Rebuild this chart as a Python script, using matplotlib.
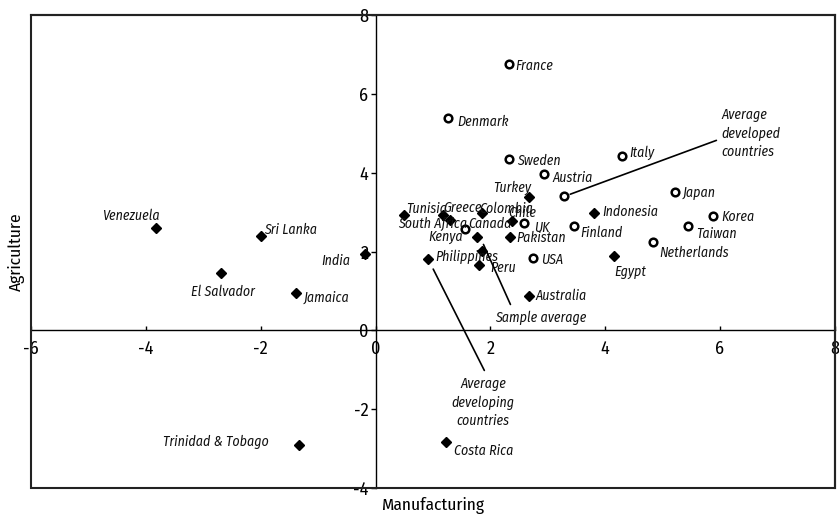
import matplotlib
matplotlib.use("Agg")
import matplotlib.pyplot as plt
from matplotlib.patches import Rectangle

plt.rcParams['font.family'] = ['Fira Sans Condensed', 'DejaVu Sans']
plt.rcParams['axes.unicode_minus'] = False

# Developing countries (filled diamonds)
dev_names = ['Venezuela', 'Sri Lanka', 'India', 'El Salvador', 'Jamaica',
             'Trinidad & Tobago', 'Costa Rica', 'Australia', 'Egypt', 'Indonesia',
             'Turkey', 'Chile', 'Pakistan', 'Tunisia', 'Greece', 'Colombia',
             'South Africa', 'Kenya', 'Philippines', 'Peru']
dev_x = [-3.83, -2.00, -0.19, -2.70, -1.39, -1.34, 1.22, 2.67, 4.16, 3.80,
         2.67, 2.37, 2.35, 0.49, 1.18, 1.85, 1.29, 1.76, 1.86, 1.81]
dev_y = [2.61, 2.39, 1.93, 1.45, 0.94, -2.92, -2.82, 0.86, 1.88, 2.99,
         3.38, 2.77, 2.36, 2.94, 2.92, 2.99, 2.79, 2.36, 2.01, 1.65]

# Developed countries (open circles)
ind_names = ['France', 'Denmark', 'Sweden', 'Austria', 'Italy', 'Japan', 'Korea',
             'Taiwan', 'Netherlands', 'Finland', 'USA', 'UK', 'Canada']
ind_x = [2.32, 1.27, 2.32, 2.93, 4.29, 5.21, 5.87, 5.44, 4.84, 3.45, 2.74, 2.58, 1.55]
ind_y = [6.75, 5.38, 4.34, 3.96, 4.42, 3.50, 2.89, 2.66, 2.23, 2.66, 1.83, 2.72, 2.56]

# Group averages
avg_dev_xy = (0.92, 1.80)
avg_ind_xy = (3.29, 3.40)
avg_all_xy = (1.88, 2.18)

x_ticks = [-6, -4, -2, 0, 2, 4, 6, 8]
y_ticks = [-4, -2, 0, 2, 4, 6, 8]

# label placement: (dx, dy) in pixels, horizontal alignment
label_pos = {
    'Venezuela': (4, 8, 'right'), 'Sri Lanka': (3, 2, 'left'), 'India': (-14, -11, 'right'),
    'El Salvador': (2, -23, 'center'), 'Jamaica': (8, -8, 'left'),
    'Trinidad & Tobago': (-30, -1, 'right'), 'Costa Rica': (8, -13, 'left'),
    'Australia': (7, -4, 'left'), 'Egypt': (0, -20, 'left'), 'Indonesia': (9, -3, 'left'),
    'Turkey': (2, 5, 'right'), 'Chile': (-3, 4, 'left'), 'Pakistan': (6, -5, 'left'),
    'Tunisia': (3, 2, 'left'), 'Greece': (0, 3, 'left'), 'Colombia': (-2, 0, 'left'),
    'South Africa': (18, -8, 'right'), 'Kenya': (-14, -3, 'right'),
    'Philippines': (16, -10, 'right'), 'Peru': (11, -7, 'left'),
    'France': (7, -6, 'left'), 'Denmark': (9, -8, 'left'), 'Sweden': (8, -6, 'left'),
    'Austria': (9, -8, 'left'), 'Italy': (7, -1, 'left'), 'Japan': (8, -5, 'left'),
    'Korea': (9, -5, 'left'), 'Taiwan': (8, -12, 'left'), 'Netherlands': (6, -15, 'left'),
    'Finland': (7, -11, 'left'), 'USA': (8, -6, 'left'), 'UK': (10, -9, 'left'),
    'Canada': (4, 1, 'left'),
}

fig = plt.figure(figsize=(8.39, 5.2), dpi=100)
ax = fig.add_axes([0.037, 0.0615, 0.958, 0.9095])

ax.plot(dev_x, dev_y, 'D', color='black', markersize=5, zorder=3)
ax.plot(ind_x, ind_y, 'o', mfc='white', mec='black', mew=1.8, markersize=5.5, zorder=3)
ax.plot(*avg_dev_xy, 'D', color='black', markersize=5, zorder=3)
ax.plot(*avg_ind_xy, 'o', mfc='white', mec='black', mew=1.8, markersize=5.5, zorder=3)

lab_kw = dict(textcoords='offset pixels', fontsize=10, style='italic', color='#111111')
for names, xs, ys in [(dev_names, dev_x, dev_y), (ind_names, ind_x, ind_y)]:
    for n, x, y in zip(names, xs, ys):
        dx, dy, ha = label_pos[n]
        ax.annotate(n, (x, y), xytext=(dx, dy), ha=ha, va='baseline', **lab_kw)

# leader lines + labels for averages
line_kw = dict(arrowstyle='-', color='black', lw=1.2, shrinkA=0)
ax.annotate('', avg_dev_xy, xytext=(56, -111), textcoords='offset pixels',
            arrowprops=dict(shrinkB=7.8, **line_kw))
ax.annotate('Average\ndeveloping\ncountries', avg_dev_xy, xytext=(55, -143),
            ha='center', va='center', linespacing=1.35, **lab_kw)
ax.annotate('', avg_ind_xy, xytext=(152, 56), textcoords='offset pixels',
            arrowprops=dict(shrinkB=4.5, **line_kw))
ax.annotate('Average\ndeveloped\ncountries', avg_ind_xy, xytext=(157, 63),
            ha='left', va='center', linespacing=1.35, **lab_kw)
ax.annotate('', avg_all_xy, xytext=(27, -60), textcoords='offset pixels',
            arrowprops=dict(shrinkB=0, **line_kw))
ax.annotate('Sample average', avg_all_xy, xytext=(57, -73),
            ha='center', va='center', **lab_kw)

ax.set_xlim(-6, 8)
ax.set_ylim(-4, 8)
ax.set_xticks(x_ticks)
ax.set_yticks(y_ticks)

ax.spines['left'].set_position(('data', 0))
ax.spines['bottom'].set_position(('data', 0))
for s in ['left', 'bottom']:
    ax.spines[s].set_linewidth(1.0)
for s in ['top', 'right']:
    ax.spines[s].set_linewidth(1.5)
    ax.spines[s].set_color('#222222')
ax.add_patch(Rectangle((0, 0), 1, 1, transform=ax.transAxes, fill=False,
                       lw=1.5, edgecolor='#222222', clip_on=False, zorder=4))

ax.tick_params(axis='x', direction='in', length=3, width=1, pad=7, labelsize=13)
ax.tick_params(axis='y', direction='out', length=3.6, width=1, pad=1.5, labelsize=13)

ax.set_xlabel('Manufacturing', fontsize=12.5)
ax.set_ylabel('Agriculture', fontsize=12.5)
ax.xaxis.set_label_coords(0.5, -0.018)
ax.yaxis.set_label_coords(-0.008, 0.5)

fig.savefig('out.png', dpi=100)
